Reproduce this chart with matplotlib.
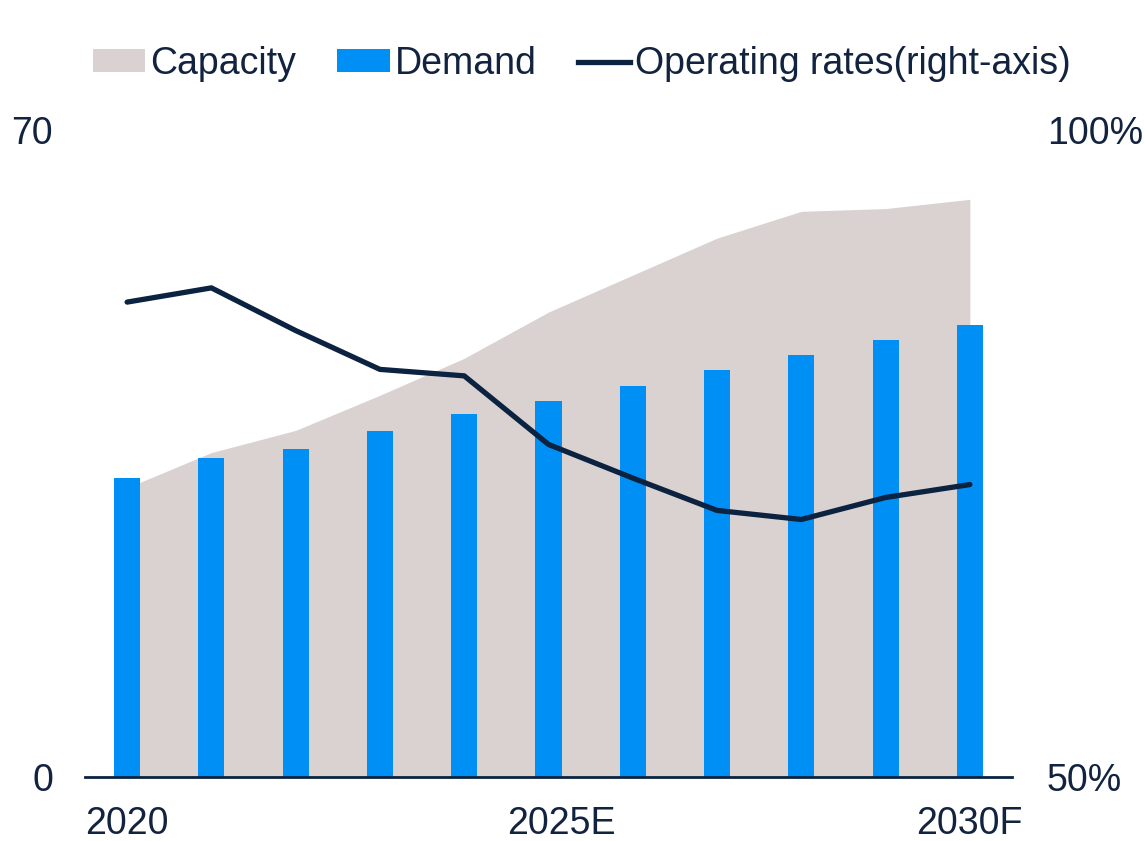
import matplotlib
matplotlib.use("Agg")
import matplotlib.pyplot as plt
import matplotlib.transforms as mtransforms
from matplotlib.patches import Patch
from matplotlib.lines import Line2D
import numpy as np

years = ["2020", "2021", "2022", "2023", "2024", "2025E", "2026", "2027", "2028", "2029", "2030F"]
capacity = [31.3, 35.1, 37.5, 41.3, 45.3, 50.3, 54.3, 58.3, 61.2, 61.5, 62.5]
demand = [32.3, 34.5, 35.5, 37.4, 39.3, 40.7, 42.3, 44.0, 45.7, 47.3, 48.9]
operating = [86.7, 87.8, 84.5, 81.5, 81.0, 75.7, 73.1, 70.6, 69.9, 71.6, 72.6]
xtick_pos = [0, 5, 10]
xtick_labels = ["2020", "2025E", "2030F"]

plt.rcParams['font.family'] = ['Liberation Sans', 'DejaVu Sans']
TXT = "#12233f"
CAP_C = "#d9d2d0"
DEM_C = "#008ff5"
LINE_C = "#0b2240"
FS = 27

fig = plt.figure(figsize=(11.45, 8.41), dpi=100)
ax = fig.add_axes([85/1145, 1-777/841, (1012-85)/1145, (777-130)/841])
x = np.arange(len(years))
ax.fill_between(x, capacity, 0, color=CAP_C, linewidth=0, zorder=1)
ax.bar(x, demand, width=0.31, color=DEM_C, zorder=2)
ax.set_xlim(-0.5, 10.5)
ax.set_ylim(0, 70)
ax.set_yticks([0, 70])
ax.set_yticklabels(["0", "70"])
ax.set_xticks(xtick_pos)
ax.set_xticklabels(xtick_labels)
for s in ["top", "right", "left"]:
    ax.spines[s].set_visible(False)
ax.spines["bottom"].set_color(LINE_C)
ax.spines["bottom"].set_linewidth(2)
ax.spines["bottom"].set_zorder(5)
ax.tick_params(axis="x", length=0, pad=21, labelsize=FS, labelcolor=TXT)
ax.tick_params(axis="y", length=0, pad=23, labelsize=FS, labelcolor=TXT)

# the middle label sits slightly right of its tick in the reference
lbl = ax.get_xticklabels()[1]
lbl.set_transform(lbl.get_transform() + mtransforms.ScaledTranslation(13/100, 0, fig.dpi_scale_trans))

ax2 = ax.twinx()
ax2.plot(x, operating, color=LINE_C, linewidth=3.8, solid_capstyle="round", solid_joinstyle="round")
ax2.set_ylim(50, 100)
ax2.set_yticks([50, 100])
ax2.set_yticklabels(["50%", "100%"])
for s in ["top", "right", "left", "bottom"]:
    ax2.spines[s].set_visible(False)
ax2.tick_params(axis="y", length=0, pad=25, labelsize=FS, labelcolor=TXT)

handles = [Patch(facecolor=CAP_C, edgecolor="none"),
           Patch(facecolor=DEM_C, edgecolor="none"),
           Line2D([0], [0], color=LINE_C, linewidth=3.8)]
labels = ["Capacity", "Demand", "Operating rates(right-axis)"]
leg = fig.legend(handles, labels, loc="center", bbox_to_anchor=(582/1145, 1-64/841), ncol=3,
                 frameon=False, fontsize=FS, handlelength=1.4, handleheight=0.55,
                 handletextpad=0.13, columnspacing=1.1, labelcolor=TXT)

fig.savefig("out.png", dpi=100)
